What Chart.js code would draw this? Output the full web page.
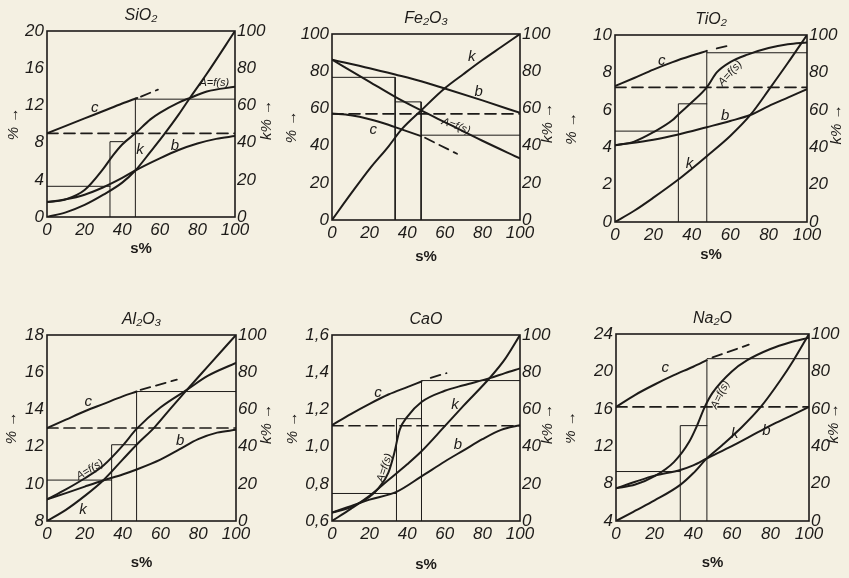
<!DOCTYPE html>
<html>
<head>
<meta charset="utf-8">
<script src="https://cdn.jsdelivr.net/npm/chart.js@4/dist/chart.umd.min.js"></script>
<style>
  html, body { margin: 0; padding: 0; background: #f4f0e2; width: 849px; height: 578px; overflow: hidden; position: relative; }
  canvas { position: absolute; }
</style>
</head>
<body>
<script>
// Shared axes: s% along the bottom, k% on the right
const S_TICKS = [0, 20, 40, 60, 80, 100];
const K_TICKS = [0, 20, 40, 60, 80, 100];

// ---- SiO2 ----
const SIO2_TICKS = [0, 4, 8, 12, 16, 20];
const SIO2_C = [[0, 9.0], [10, 9.8], [20, 10.6], [30, 11.4], [40, 12.2], [48, 12.8]];
const SIO2_C_EXT = [[50, 12.95], [59, 13.7]];
const SIO2_A = [[0, 1.6], [10, 1.9], [20, 2.9], [30, 5.2], [35, 6.6], [40, 7.8], [47, 9.0], [55, 10.5], [60, 11.2], [70, 12.3], [76, 12.8], [85, 13.5], [100, 14.0]];
const SIO2_B = [[0, 1.6], [10, 1.9], [20, 2.4], [30, 3.2], [40, 4.2], [47, 5.0], [60, 6.3], [70, 7.2], [80, 7.9], [90, 8.4], [100, 8.7]];
const SIO2_K = [[0, 0], [10, 2.5], [20, 6.5], [30, 12], [40, 18.5], [47, 25], [55, 35], [62, 44], [70, 55], [76, 64], [85, 77], [100, 100]];
const SIO2_LEVEL = 9.0;
const SIO2_GUIDES = [
  [[0, 3.3], [33.5, 3.3]],
  [[33.5, 0], [33.5, 8.1], [40.5, 8.1]],
  [[47, 0], [47, 12.8]],
  [[47, 12.67], [100, 12.67]]
];

// ---- Fe2O3 ----
const FE2O3_TICKS = [0, 20, 40, 60, 80, 100];
const FE2O3_C = [[0, 57.2], [10, 56.3], [20, 54.2], [30, 51.2], [37, 48.7], [47.4, 45.1]];
const FE2O3_C_EXT = [[49.5, 44.2], [66.5, 35.6]];
const FE2O3_A = [[0, 86.2], [20, 74.3], [33.6, 66.2], [47.4, 58.9], [60, 52.6], [80, 42.6], [100, 33.1]];
const FE2O3_B = [[0, 86.2], [20, 81.6], [33.6, 78.2], [47.4, 74.6], [60, 70.7], [80, 64.3], [100, 57.6]];
const FE2O3_K = [[0, 0], [10, 14], [20, 27.5], [30, 39.5], [37, 48.7], [47.4, 58.9], [60, 70.8], [70, 78.5], [80, 86], [90, 93], [100, 100]];
const FE2O3_LEVEL = 57.1;
const FE2O3_GUIDES = [
  [[0, 76.7], [33.6, 76.7], [33.6, 0]],
  [[33.6, 63.5], [47.4, 63.5], [47.4, 0]],
  [[47.4, 45.6], [100, 45.6]]
];

// ---- TiO2 ----
const TIO2_TICKS = [0, 2, 4, 6, 8, 10];
const TIO2_C = [[0, 7.27], [10, 7.7], [20, 8.15], [30, 8.55], [40, 8.9], [47.8, 9.15]];
const TIO2_C_EXT = [[53, 9.28], [58.6, 9.42]];
const TIO2_A = [[0, 4.1], [10, 4.3], [20, 4.8], [30, 5.45], [33, 5.75], [40, 6.4], [47.8, 7.2], [53, 8.0], [60, 8.55], [69, 8.95], [80, 9.3], [90, 9.5], [100, 9.6]];
const TIO2_B = [[0, 4.1], [20, 4.4], [33, 4.68], [47.8, 5.07], [60, 5.4], [70.4, 5.72], [80, 6.2], [90, 6.65], [100, 7.1]];
const TIO2_K = [[0, 0], [10, 6], [20, 13], [33, 22.7], [40, 28.5], [47.8, 35.2], [60, 46], [70.4, 57.1], [81, 72], [90, 85], [100, 100]];
const TIO2_LEVEL = 7.2;
const TIO2_GUIDES = [
  [[0, 4.86], [33, 4.86]],
  [[33, 0], [33, 6.32], [47.8, 6.32]],
  [[47.8, 0], [47.8, 9.15]],
  [[47.8, 9.05], [100, 9.05]]
];

// ---- Al2O3 ----
const AL2O3_TICKS = [8, 10, 12, 14, 16, 18];
const AL2O3_C = [[0, 13.0], [10, 13.45], [20, 13.9], [30, 14.3], [40, 14.7], [47.4, 14.96]];
const AL2O3_C_EXT = [[49.5, 15.05], [68.7, 15.6]];
const AL2O3_A = [[0, 9.16], [10, 9.7], [20, 10.3], [30, 11.0], [40, 12.05], [47.4, 12.95], [60, 14.1], [74, 15.05], [85, 15.8], [100, 16.5]];
const AL2O3_B = [[0, 9.16], [10, 9.5], [20, 9.85], [29.7, 10.18], [40, 10.5], [47.4, 10.77], [60, 11.3], [70, 11.85], [80, 12.4], [90, 12.75], [100, 12.9]];
const AL2O3_K = [[0, 0], [10, 6], [20, 13.5], [29.7, 21.8], [40, 33], [47.4, 41], [57, 50.5], [65, 60], [74, 70.5], [85, 83], [100, 100]];
const AL2O3_LEVEL = 13.0;
const AL2O3_GUIDES = [
  [[0, 10.2], [34.2, 10.2]],
  [[34.2, 8], [34.2, 12.1], [47.4, 12.1]],
  [[47.4, 8], [47.4, 14.96]],
  [[47.4, 14.96], [100, 14.96]]
];

// ---- CaO ----
const CAO_TICKS = [0.6, 0.8, 1.0, 1.2, 1.4, 1.6];
const CAO_TICK_LABELS = ['0,6', '0,8', '1,0', '1,2', '1,4', '1,6'];
const CAO_C = [[0, 1.115], [10, 1.175], [20, 1.23], [30, 1.28], [40, 1.32], [47.6, 1.35]];
const CAO_C_EXT = [[52.5, 1.37], [60.9, 1.395]];
const CAO_A = [[0, 0.645], [10, 0.675], [20, 0.73], [25, 0.78], [30, 0.86], [33, 0.96], [36, 1.09], [40, 1.16], [47.6, 1.24], [60, 1.30], [70, 1.33], [84, 1.368], [92, 1.395], [100, 1.42]];
const CAO_B = [[0, 0.645], [10, 0.68], [20, 0.715], [34.3, 0.757], [47.6, 0.84], [60, 0.92], [70, 0.98], [80, 1.04], [90, 1.09], [100, 1.115]];
const CAO_K = [[0, 0], [10, 6.5], [21, 14.3], [30, 22], [40, 30.5], [47.6, 37.5], [60, 51], [70, 62], [84, 77], [92, 87], [100, 100]];
const CAO_LEVEL = 1.112;
const CAO_GUIDES = [
  [[0, 0.748], [34.3, 0.748]],
  [[34.3, 0.6], [34.3, 1.15], [47.6, 1.15]],
  [[47.6, 0.6], [47.6, 1.35]],
  [[47.6, 1.355], [100, 1.355]]
];

// ---- Na2O ----
const NA2O_TICKS = [4, 8, 12, 16, 20, 24];
const NA2O_C = [[0, 16.2], [10, 17.5], [20, 18.6], [30, 19.6], [40, 20.5], [47, 21.2]];
const NA2O_C_EXT = [[50, 21.5], [68.8, 22.86]];
const NA2O_A = [[0, 7.5], [10, 7.9], [20, 8.8], [30, 10.3], [38, 12.5], [42, 14.2], [46, 16.2], [50, 17.7], [60, 20.0], [68, 21.2], [80, 22.4], [90, 23.1], [100, 23.6]];
const NA2O_B = [[0, 7.5], [10, 8.2], [20, 8.85], [33.3, 9.46], [40, 9.95], [47.1, 10.7], [60, 12.0], [70, 13.1], [80, 14.2], [90, 15.2], [100, 16.2]];
const NA2O_K = [[0, 0], [10, 5.5], [20, 11], [33.3, 19.3], [40, 25.5], [47.1, 33.5], [55, 40.5], [65, 50], [75, 61], [85, 75], [92, 86], [100, 100]];
const NA2O_LEVEL = 16.2;
const NA2O_GUIDES = [
  [[0, 9.29], [33.3, 9.29]],
  [[33.3, 4], [33.3, 14.2], [47.1, 14.2]],
  [[47.1, 4], [47.1, 21.25]],
  [[47.1, 21.36], [100, 21.36]]
];

const INK = '#1d1b19';
const FONT = "'Liberation Sans', 'DejaVu Sans', sans-serif";
const AF = 'A=f(s)';

// Panel layout: plot frame [left, top, right, bottom] in page pixels, caption offsets
const PANELS = [
  { title: 'SiO₂', box: [47, 31, 235, 217], ticks: SIO2_TICKS, c: SIO2_C, cExt: SIO2_C_EXT, a: SIO2_A, b: SIO2_B, k: SIO2_K,
    level: SIO2_LEVEL, guides: SIO2_GUIDES, sDy: 32, lDx: -33, rDx: 32,
    notes: [
      { t: 'c', s: 25.4, v: 11.7 }, { t: 'b', s: 68, v: 7.65 }, { t: 'k', s: 49.5, v: 7.2 },
      { t: AF, s: 89, v: 14.4, size: 11 }
    ] },
  { title: 'Fe₂O₃', box: [332, 34, 520, 220], ticks: FE2O3_TICKS, c: FE2O3_C, cExt: FE2O3_C_EXT, a: FE2O3_A, b: FE2O3_B, k: FE2O3_K,
    level: FE2O3_LEVEL, guides: FE2O3_GUIDES, sDy: 37, lDx: -40, rDx: 28,
    notes: [
      { t: 'c', s: 22, v: 48.7 }, { t: 'b', s: 78, v: 69 }, { t: 'k', s: 74.3, v: 87.5 },
      { t: AF, s: 66, v: 50.5, size: 11, rot: 20 }
    ] },
  { title: 'TiO₂', box: [615, 35, 807, 222], ticks: TIO2_TICKS, c: TIO2_C, cExt: TIO2_C_EXT, a: TIO2_A, b: TIO2_B, k: TIO2_K,
    level: TIO2_LEVEL, guides: TIO2_GUIDES, sDy: 33, lDx: -43, rDx: 30,
    notes: [
      { t: 'c', s: 24.3, v: 8.6 }, { t: 'b', s: 57.4, v: 5.7 }, { t: 'k', s: 38.8, v: 3.1 },
      { t: AF, s: 60, v: 7.95, size: 11, rot: -48 }
    ] },
  { title: 'Al₂O₃', box: [47, 335, 236, 521], ticks: AL2O3_TICKS, c: AL2O3_C, cExt: AL2O3_C_EXT, a: AL2O3_A, b: AL2O3_B, k: AL2O3_K,
    level: AL2O3_LEVEL, guides: AL2O3_GUIDES, sDy: 42, lDx: -35, rDx: 31,
    notes: [
      { t: 'c', s: 21.8, v: 14.4 }, { t: 'b', s: 70.4, v: 12.3 }, { t: 'k', s: 19, v: 8.6 },
      { t: AF, s: 22.7, v: 10.75, size: 11, rot: -31 }
    ] },
  { title: 'CaO', box: [332, 335, 520, 521], ticks: CAO_TICKS, labels: CAO_TICK_LABELS, c: CAO_C, cExt: CAO_C_EXT, a: CAO_A, b: CAO_B, k: CAO_K,
    level: CAO_LEVEL, guides: CAO_GUIDES, sDy: 44, lDx: -39, rDx: 28,
    notes: [
      { t: 'c', s: 24.5, v: 1.29 }, { t: 'b', s: 67, v: 1.01 }, { t: 'k', s: 65.4, v: 1.225 },
      { t: AF, s: 28, v: 0.886, size: 11, rot: -72 }
    ] },
  { title: 'Na₂O', box: [616, 334, 809, 521], ticks: NA2O_TICKS, c: NA2O_C, cExt: NA2O_C_EXT, a: NA2O_A, b: NA2O_B, k: NA2O_K,
    level: NA2O_LEVEL, guides: NA2O_GUIDES, sDy: 42, lDx: -45, rDx: 25,
    notes: [
      { t: 'c', s: 25.5, v: 20.4 }, { t: 'b', s: 78, v: 13.6 }, { t: 'k', s: 61.5, v: 13.3 },
      { t: AF, s: 54, v: 17.5, size: 11, rot: -64 }
    ] }
];

const M_LEFT = 50, M_RIGHT = 50, M_TOP = 30, M_BOTTOM = 60;

function series(points, axis, width, dash, smooth) {
  return {
    data: points.map(([x, y]) => ({ x, y })),
    yAxisID: axis,
    borderColor: INK,
    borderWidth: width,
    borderDash: dash || [],
    borderCapStyle: 'round',
    pointRadius: 0,
    fill: false,
    tension: 0,
    cubicInterpolationMode: smooth ? 'monotone' : 'default'
  };
}

function captions(p) {
  return {
    id: 'panelCaptions',
    afterDatasetsDraw(chart) {
      const { ctx, chartArea: a, scales } = chart;
      ctx.save();
      ctx.strokeStyle = INK;
      ctx.lineWidth = 1.6;
      ctx.strokeRect(a.left, a.top, a.right - a.left, a.bottom - a.top);
      ctx.fillStyle = INK;
      ctx.textAlign = 'center';
      ctx.textBaseline = 'middle';
      for (const n of p.notes) {
        const x = scales.x.getPixelForValue(n.s);
        const y = scales.y.getPixelForValue(n.v);
        ctx.save();
        ctx.translate(x, y);
        ctx.rotate((n.rot || 0) * Math.PI / 180);
        ctx.font = `italic ${n.size || 15}px ${FONT}`;
        ctx.fillText(n.t, 0, 0);
        ctx.restore();
      }
      const midY = (a.top + a.bottom) / 2;
      ctx.font = `italic 15px ${FONT}`;
      ctx.save();
      ctx.translate(a.left + p.lDx, midY);
      ctx.rotate(-Math.PI / 2);
      ctx.fillText('% →', 0, 0);
      ctx.restore();
      ctx.save();
      ctx.translate(a.right + p.rDx, midY - 4);
      ctx.rotate(-Math.PI / 2);
      ctx.fillText('k% →', 0, 0);
      ctx.restore();
      ctx.font = `bold 15px ${FONT}`;
      ctx.fillText('s%', (a.left + a.right) / 2, a.bottom + p.sDy);
      ctx.restore();
    }
  };
}

const tickFont = { family: FONT, size: 17, style: 'italic' };

PANELS.forEach((p) => {
  const [L, T, R, B] = p.box;
  const cv = document.createElement('canvas');
  const w = (R - L) + M_LEFT + M_RIGHT;
  const h = (B - T) + M_TOP + M_BOTTOM;
  cv.width = w; cv.height = h;
  cv.style.left = (L - M_LEFT) + 'px';
  cv.style.top = (T - M_TOP) + 'px';
  cv.style.width = w + 'px';
  cv.style.height = h + 'px';
  document.body.appendChild(cv);

  const yMin = p.ticks[0], yMax = p.ticks[p.ticks.length - 1];
  const yLabels = p.labels || p.ticks.map(String);

  const datasets = [
    series([[0, p.level], [100, p.level]], 'y', 1.7, [11, 6], false),
    series(p.c, 'y', 2, null, true),
    series(p.cExt, 'y', 1.8, [10, 6], false),
    series(p.a, 'y', 2, null, true),
    series(p.b, 'y', 2, null, true),
    series(p.k, 'k', 2, null, true),
    ...p.guides.map(g => series(g, 'y', 1, null, false))
  ];

  new Chart(cv, {
    type: 'line',
    data: { datasets },
    plugins: [captions(p)],
    options: {
      responsive: false,
      animation: false,
      devicePixelRatio: 1,
      layout: { padding: 0 },
      plugins: {
        legend: { display: false },
        tooltip: { enabled: false },
        title: {
          display: true, text: p.title, color: INK,
          font: { family: FONT, size: 16, style: 'italic', weight: 'normal', lineHeight: '18px' },
          padding: { top: 6, bottom: 6 }
        }
      },
      scales: {
        x: {
          type: 'linear', position: 'bottom', min: 0, max: 100,
          afterBuildTicks: s => { s.ticks = S_TICKS.map(v => ({ value: v })); },
          afterFit: s => { s.height = M_BOTTOM; },
          grid: { display: false, drawTicks: false },
          border: { display: false },
          ticks: { color: INK, font: tickFont, padding: 3, autoSkip: false, maxRotation: 0, callback: v => String(v) }
        },
        y: {
          type: 'linear', position: 'left', min: yMin, max: yMax,
          afterBuildTicks: s => { s.ticks = p.ticks.map(v => ({ value: v })); },
          afterFit: s => { s.width = M_LEFT; },
          grid: { display: false, drawTicks: false },
          border: { display: false },
          ticks: { color: INK, font: tickFont, padding: 3, autoSkip: false, callback: (v, i) => yLabels[i] }
        },
        k: {
          type: 'linear', position: 'right', min: 0, max: 100,
          afterBuildTicks: s => { s.ticks = K_TICKS.map(v => ({ value: v })); },
          afterFit: s => { s.width = M_RIGHT; },
          grid: { display: false, drawTicks: false },
          border: { display: false },
          ticks: { color: INK, font: tickFont, padding: 2, autoSkip: false, callback: v => String(v) }
        }
      }
    }
  });
});
</script>
</body>
</html>
